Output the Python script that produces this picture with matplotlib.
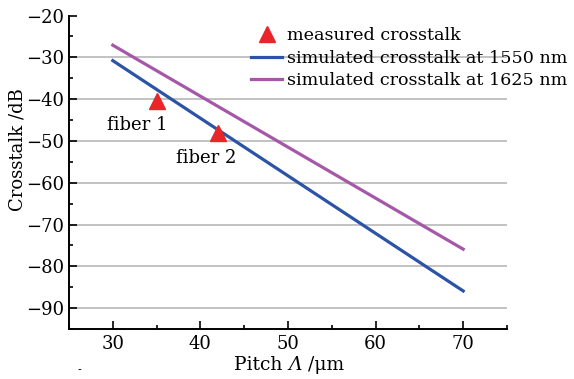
import matplotlib
matplotlib.use("Agg")
import matplotlib.pyplot as plt
from matplotlib.ticker import MultipleLocator

plt.rcParams['font.family'] = ['DejaVu Serif']

# data
pitch_sim = [30, 70]
xt_1550 = [-30.8, -85.9]
xt_1625 = [-27.1, -75.9]
pitch_meas = [35, 42]
xt_meas = [-40.5, -48.1]
fiber_labels = ["fiber 1", "fiber 2"]
label_pos = [(32.8, -46.2), (40.7, -54.1)]

fig = plt.figure(figsize=(5.74, 3.79), dpi=100)
ax = fig.add_axes([0.1202, 0.1319, 0.7631, 0.8272])

for y in range(-90, -20, 10):
    ax.axhline(y, color='#bdbdbd', lw=1.3, zorder=0)

ax.plot(pitch_meas, xt_meas, linestyle='none', marker='^', ms=11,
        color='#e8262a', label='measured crosstalk', zorder=4)
ax.plot(pitch_sim, xt_1550, color='#2b54a6', lw=2.3,
        label='simulated crosstalk at 1550 nm', zorder=3)
ax.plot(pitch_sim, xt_1625, color='#a658a8', lw=2.3,
        label='simulated crosstalk at 1625 nm', zorder=3)

for txt, (px, py) in zip(fiber_labels, label_pos):
    ax.text(px, py, txt, ha='center', va='center', fontsize=13)

ax.set_xlim(25, 75)
ax.set_ylim(-95, -20)
ax.xaxis.set_minor_locator(MultipleLocator(5))
ax.yaxis.set_major_locator(MultipleLocator(10))
ax.yaxis.set_minor_locator(MultipleLocator(5))
ax.set_xticks([30, 40, 50, 60, 70])
ax.tick_params(which='major', direction='in', length=6, width=1.2, labelsize=13)
ax.tick_params(which='minor', direction='in', length=3, width=1.2)
ax.tick_params(axis='x', pad=4)
for s in ['top', 'right']:
    ax.spines[s].set_visible(False)
for s in ['left', 'bottom']:
    ax.spines[s].set_linewidth(1.4)

# x label in pieces so the Lambda can be italic
t1 = fig.text(234 / 574, 1 - 365 / 379, "Pitch ", fontsize=13.5, va='center')
t2 = ax.annotate("Λ", xy=(1, 0), xycoords=t1, va='bottom', fontsize=13.5,
                 style='italic', annotation_clip=False)
ax.annotate(" /μm", xy=(1, 0), xycoords=t2, va='bottom', fontsize=13.5,
            annotation_clip=False)

ax.set_ylabel("Crosstalk /dB", fontsize=13)
ax.yaxis.set_label_coords(-0.098, 0.571)

fig.legend(loc='upper left', bbox_to_anchor=(0.425, 0.947), frameon=False,
           fontsize=12.6, handlelength=1.8, handletextpad=0.25, labelspacing=0.32,
           borderaxespad=0)

fig.text(79 / 574, 1 - 370 / 379, "-", fontsize=8, ha='center', va='center')

fig.savefig("out.png", dpi=100)
